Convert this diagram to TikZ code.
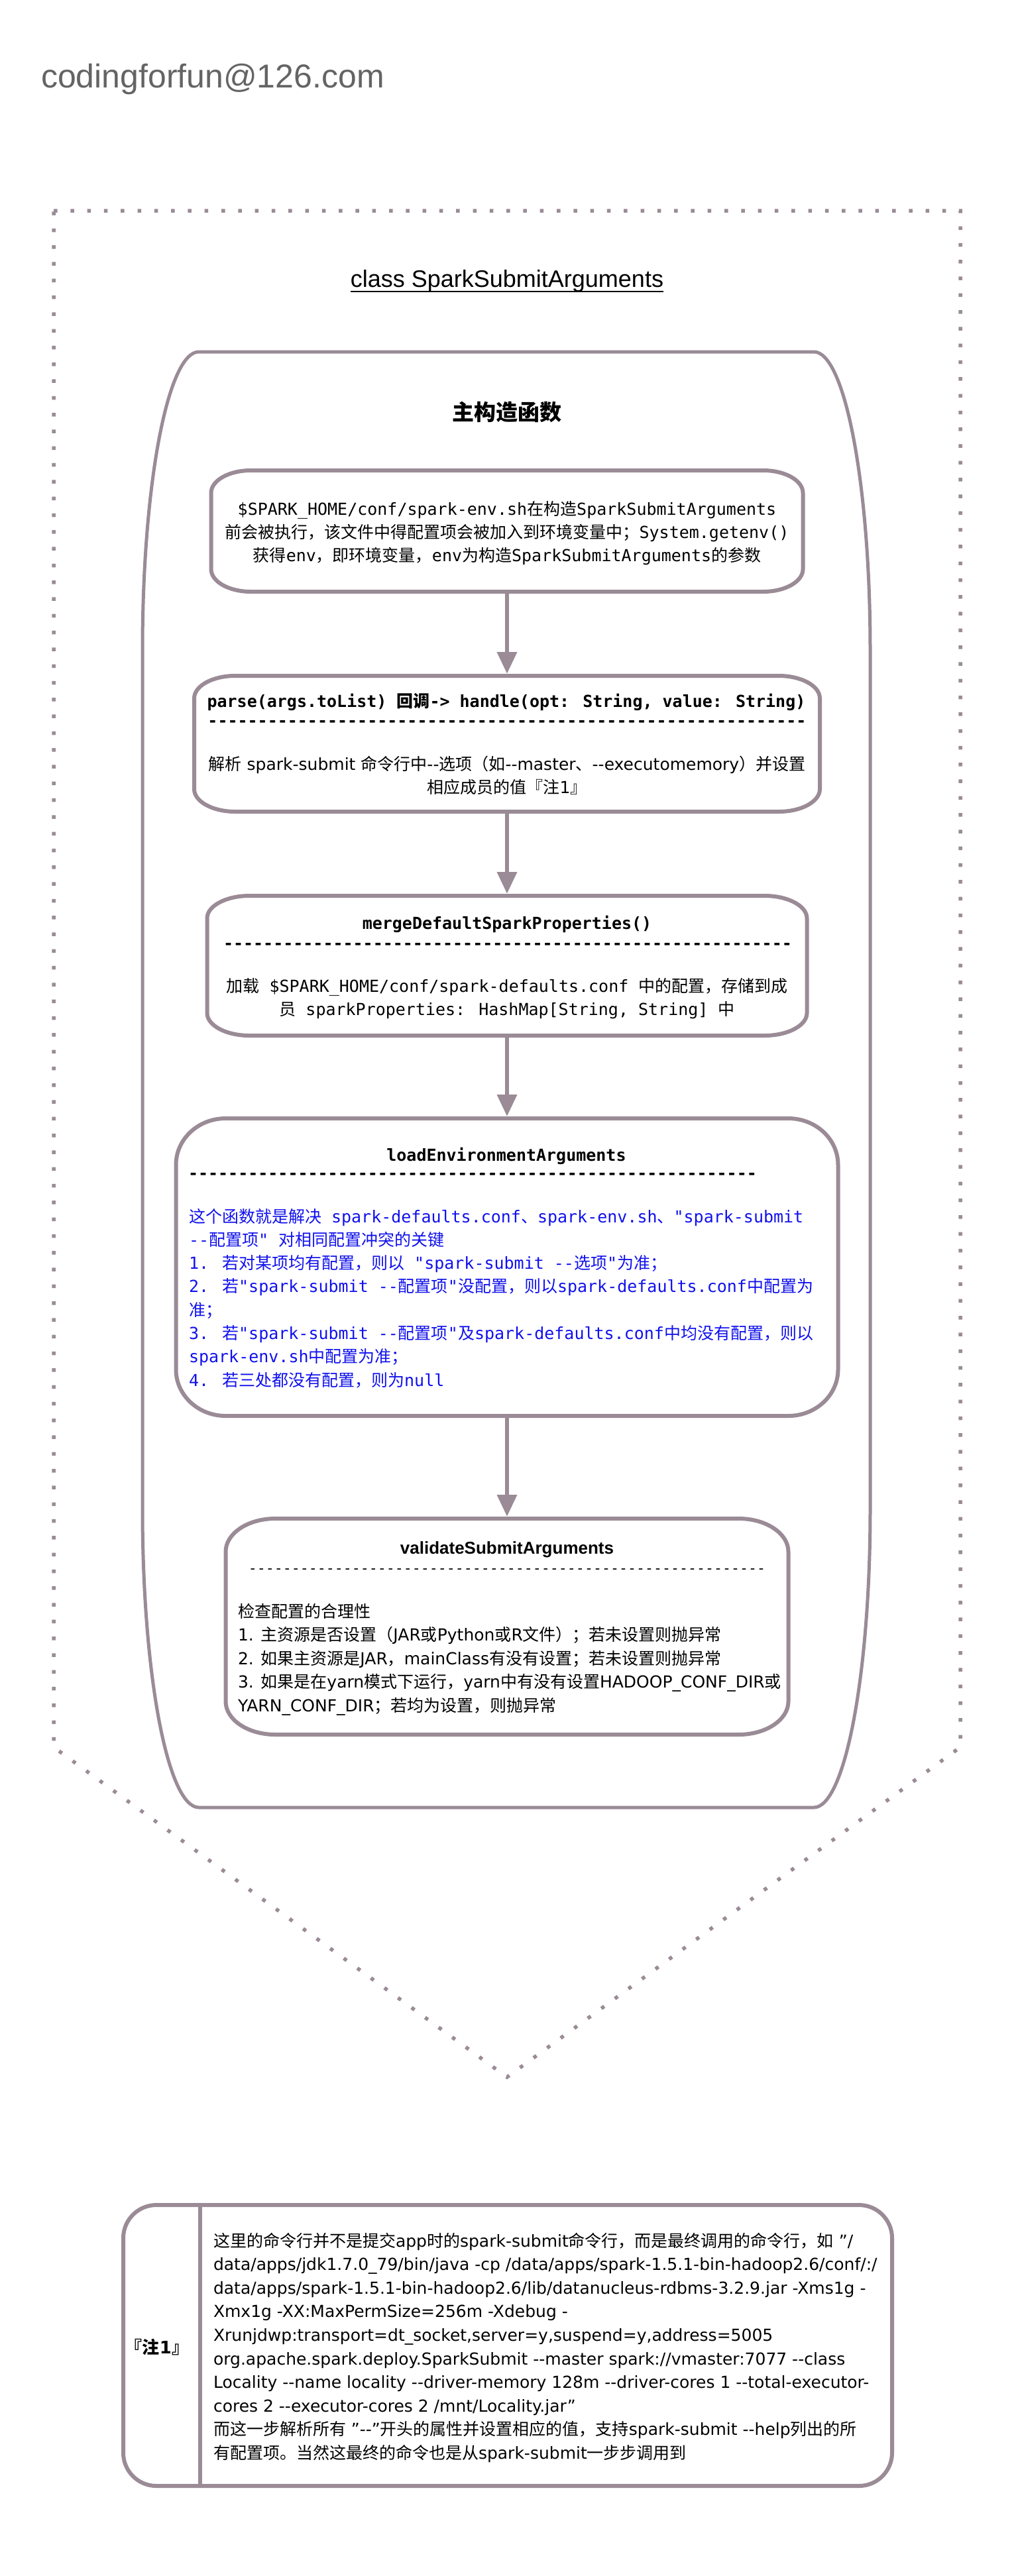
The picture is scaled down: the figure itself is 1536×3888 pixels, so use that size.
\documentclass[tikz,border=0pt]{standalone}
\usepackage{fontspec}
\usetikzlibrary{arrows.meta,calc}
\newfontfamily\monof{DejaVu Sans Mono}
\newfontfamily\sansf{DejaVu Sans}
\newfontfamily\liberf{Liberation Sans}
\newfontfamily\cjkreg{Noto Sans CJK SC}
\definecolor{lineC}{RGB}{154,139,150}
\definecolor{blueT}{RGB}{17,17,238}
\definecolor{grayT}{RGB}{100,100,100}
% automatic switching between Latin and CJK fonts
\def\latf{\sansf}
\def\cjkf{\cjkreg}
\XeTeXinterchartokenstate=1
\chardef\CJKcls=10
\newcount\cjkcnt
\def\setcjkrange#1#2{\cjkcnt=#1\relax
  \loop\XeTeXcharclass\cjkcnt=\CJKcls\relax
  \ifnum\cjkcnt<#2\relax\advance\cjkcnt by 1\relax\repeat}
\setcjkrange{"3000}{"303F}
\setcjkrange{"4E00}{"9FFF}
\setcjkrange{"FF00}{"FFEF}
\def\cjkpair#1{\XeTeXinterchartoks #1 \CJKcls = {\cjkf}\XeTeXinterchartoks \CJKcls #1 = {\latf}}
\cjkpair{0}\cjkpair{1}\cjkpair{2}\cjkpair{3}\cjkpair{4095}
\newcommand\fl{\rule{0pt}{0.9em}}
\def\hten{----------}
% box outline with elliptical corners
\newcommand\eoutline[4]{%
  \path[#1] let \p1=(#2.north west), \p2=(#2.south east) in
   (\x1+#3,\y1) -- (\x2-#3,\y1)
   .. controls (\x2-0.4477*#3,\y1) and (\x2,\y1-0.4477*#4) .. (\x2,\y1-#4)
   -- (\x2,\y2+#4)
   .. controls (\x2,\y2+0.4477*#4) and (\x2-0.4477*#3,\y2) .. (\x2-#3,\y2)
   -- (\x1+#3,\y2)
   .. controls (\x1+0.4477*#3,\y2) and (\x1,\y2+0.4477*#4) .. (\x1,\y2+#4)
   -- (\x1,\y1-#4)
   .. controls (\x1,\y1-0.4477*#4) and (\x1+0.4477*#3,\y1) .. (\x1+#3,\y1) -- cycle;}
\tikzset{
  txt/.style={inner sep=0pt, outer sep=0pt, text=black},
  boxn/.style={inner sep=0pt, outer sep=0pt},
  gline/.style={draw=lineC, line width=3pt, fill=white},
  cline/.style={draw=lineC, line width=2.5pt, fill=white},
  arr/.style={draw=lineC, line width=3.25pt, -{Triangle[length=16.5pt,width=14.5pt]}, shorten >=1.5pt},
  monoR/.style={font={\def\latf{\monof}\def\cjkf{\cjkreg}\fontsize{12.5pt}{#1}\selectfont\latf}},
  monoR/.default=17.5pt,
  monoB/.style={font={\def\latf{\monof\bfseries}\def\cjkf{\cjkreg\bfseries}\fontsize{12.5pt}{17.5pt}\selectfont\latf}},
  sansR/.style={font={\def\latf{\sansf}\def\cjkf{\cjkreg}\fontsize{12.5pt}{#1}\selectfont\latf}},
  sansR/.default=17.5pt,
}
\begin{document}
\begin{tikzpicture}[x=0.5pt,y=-0.5pt]
\fill[white] (0,0) rectangle (1536,3888);
\useasboundingbox (0,0) rectangle (1536,3888);

% header
\node[txt, anchor=base west, text=grayT, font=\liberf\fontsize{25pt}{30pt}\selectfont] (email) at (62,132) {codingforfun@126.com};

% dotted class frame
\draw[lineC, line width=2.75pt, dash pattern=on 2.75pt off 9.9pt]
  (81,318) -- (1449,318) -- (1449,2637) -- (765,3135) -- (81,2637) -- cycle;
\node[txt, anchor=base, font=\liberf\fontsize{18pt}{22pt}\selectfont] (cls) at (765,433) {class SparkSubmitArguments};
\draw[line width=1.4pt] ([yshift=-3.5pt]cls.base west) -- ([yshift=-3.5pt]cls.base east);

% constructor container
\node[boxn, minimum width=549pt, minimum height=1098.5pt] (ctor) at (764,1629.5) {};
\eoutline{cline}{ctor}{42.5pt}{225pt}
\node[txt, anchor=base, font={\def\cjkf{\cjkreg\bfseries}\fontsize{16.5pt}{20pt}\selectfont\cjkreg\bfseries}] (ctitle) at (765,634) {主构造函数};

% boxes
\node[boxn, minimum width=446.5pt, minimum height=91.5pt] (b1) at (765,801.5) {};
\node[boxn, minimum width=472pt, minimum height=102.5pt] (b2) at (765,1122.5) {};
\node[boxn, minimum width=452.5pt, minimum height=105.5pt] (b3) at (765,1457.5) {};
\node[boxn, minimum width=499.5pt, minimum height=224.5pt] (b4) at (765,1912.5) {};
\node[boxn, minimum width=424.5pt, minimum height=163pt] (b5) at (765,2455) {};
\eoutline{gline}{b1}{30pt}{17pt}
\eoutline{gline}{b2}{31pt}{17pt}
\eoutline{gline}{b3}{32pt}{17pt}
\eoutline{gline}{b4}{37.5pt}{35pt}
\eoutline{gline}{b5}{37.5pt}{25pt}

\draw[arr] (b1.south) -- (b2.north);
\draw[arr] (b2.south) -- (b3.north);
\draw[arr] (b3.south) -- (b4.north);
\draw[arr] (b4.south) -- (b5.north);

% box 1
\node[txt, monoR, align=center, anchor=north] (t1) at (765,754.5)
 {\fl\$SPARK\_HOME/conf/spark-env.sh在构造SparkSubmitArguments\\前会被执行，该文件中得配置项会被加入到环境变量中；System.getenv()\\获得env，即环境变量，env为构造SparkSubmitArguments的参数};

% box 2
\node[txt, monoB, anchor=base] (t2a) at (764,1067) {parse(args.toList) 回调-> handle(opt: String, value: String)};
\node[txt, monoB, anchor=base] (t2b) at (765,1096) {\hten\hten\hten\hten\hten\hten};
\node[txt, sansR, align=center, anchor=north] (t2c) at (765,1139.5)
 {\fl{}解析 spark-submit 命令行中--选项（如--master、--executomemory）并设置\\相应成员的值『注1』};

% box 3
\node[txt, monoB, anchor=base] (t3a) at (765,1402) {mergeDefaultSparkProperties()};
\node[txt, monoB, anchor=base] (t3b) at (766,1432) {\hten\hten\hten\hten\hten-------};
\node[txt, monoR, align=center, anchor=north] (t3c) at (765,1474.5)
 {\fl{}加载 \$SPARK\_HOME/conf/spark-defaults.conf 中的配置，存储到成\\员 sparkProperties: HashMap[String, String] 中};

% box 4
\node[txt, monoB, anchor=base] (t4a) at (764,1752) {loadEnvironmentArguments};
\node[txt, monoB, anchor=base west] (t4b) at (284,1779) {\hten\hten\hten\hten\hten-------};
\node[txt, monoR=17.65pt, text=blueT, align=left, anchor=north west] (t4c) at (285,1822.5)
 {\fl{}这个函数就是解决 spark-defaults.conf、spark-env.sh、"spark-submit\\--配置项" 对相同配置冲突的关键\\1. 若对某项均有配置，则以 "spark-submit --选项"为准；\\2. 若"spark-submit --配置项"没配置，则以spark-defaults.conf中配置为\\准；\\3. 若"spark-submit --配置项"及spark-defaults.conf中均没有配置，则以\\spark-env.sh中配置为准；\\4. 若三处都没有配置，则为null};

% box 5
\node[txt, anchor=base, font=\liberf\bfseries\fontsize{13pt}{16pt}\selectfont] (t5a) at (765,2345) {validateSubmitArguments};
\node[txt, anchor=base, font=\monof\fontsize{10.8pt}{12pt}\selectfont] (t5b) at (765,2374) {\hten\hten\hten\hten\hten\hten};
\node[txt, sansR=17.75pt, align=left, anchor=north west] (t5c) at (359,2418.5)
 {\fl{}检查配置的合理性\\1. 主资源是否设置（JAR或Python或R文件）；若未设置则抛异常\\2. 如果主资源是JAR，mainClass有没有设置；若未设置则抛异常\\3. 如果是在yarn模式下运行，yarn中有没有设置HADOOP\_CONF\_DIR或\\YARN\_CONF\_DIR；若均为设置，则抛异常};

% note
\node[boxn, minimum width=580pt, minimum height=212pt] (note) at (766,3540) {};
\eoutline{gline}{note}{25pt}{25pt}
\draw[draw=lineC, line width=3pt] (302,3328) -- (302,3752);
\node[txt, anchor=base, font={\def\latf{\sansf\bfseries}\def\cjkf{\cjkreg\bfseries}\fontsize{13pt}{16pt}\selectfont\latf}] (n1) at (237,3552) {『注1』};
\node[txt, sansR=17.8pt, align=left, anchor=north west] (n2) at (322,3368.5)
 {\fl{}这里的命令行并不是提交app时的spark-submit命令行，而是最终调用的命令行，如 ”/\\data/apps/jdk1.7.0\_79/bin/java -cp /data/apps/spark-1.5.1-bin-hadoop2.6/conf/:/\\data/apps/spark-1.5.1-bin-hadoop2.6/lib/datanucleus-rdbms-3.2.9.jar -Xms1g -\\Xmx1g -XX:MaxPermSize=256m -Xdebug -\\Xrunjdwp:transport=dt\_socket,server=y,suspend=y,address=5005\\org.apache.spark.deploy.SparkSubmit --master spark://vmaster:7077 --class\\Locality --name locality --driver-memory 128m --driver-cores 1 --total-executor-\\cores 2 --executor-cores 2 /mnt/Locality.jar”\\而这一步解析所有 ”--”开头的属性并设置相应的值，支持spark-submit --help列出的所\\有配置项。当然这最终的命令也是从spark-submit一步步调用到};
\end{tikzpicture}
\end{document}
